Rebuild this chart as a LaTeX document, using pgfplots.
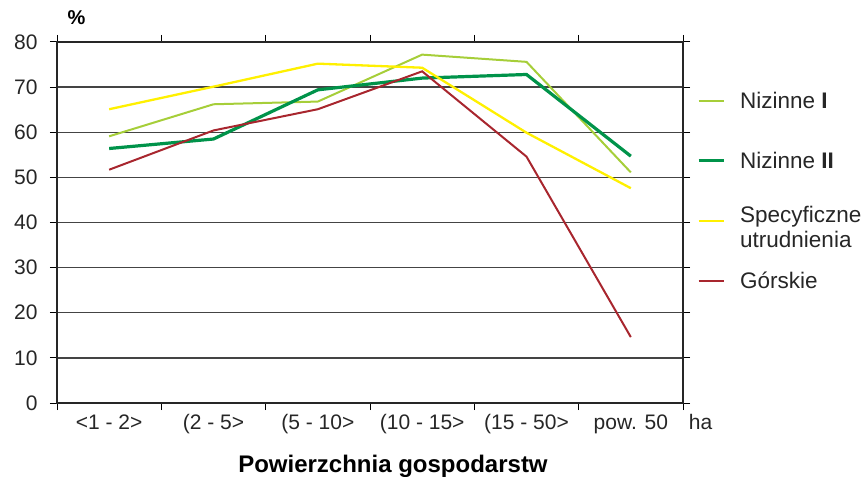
\documentclass[border=0pt]{standalone}
\usepackage{fontspec}
\setmainfont{Liberation Sans}
\usepackage{pgfplots}
\pgfplotsset{compat=1.18}
\definecolor{cLG}{HTML}{A6CE39}
\definecolor{cDG}{HTML}{00934A}
\definecolor{cYE}{HTML}{FFF000}
\definecolor{cRD}{HTML}{A8262E}
\definecolor{cGrid}{HTML}{444444}
\begin{document}
\begin{tikzpicture}
\begin{axis}[
  scale only axis,
  width=626bp, height=361bp,
  xmin=0.5, xmax=6.5, ymin=0, ymax=80,
  xtick={1,...,6},
  xticklabels={{<1 - 2>},{(2 - 5>},{(5 - 10>},{(10 - 15>},{(15 - 50>},{pow. 50\rlap{\hspace{1em}ha}}},
  minor xtick={0.5,1.5,...,6.5},
  major x tick style={draw=none},
  minor x tick style={draw=black, line width=1bp},
  ytick={0,10,...,80},
  y tick style={draw=black, line width=1bp},
  tick align=outside,
  major tick length=7bp, minor tick length=7bp,
  ymajorgrids,
  major y grid style={draw=cGrid, line width=1.3bp},
  axis line style={draw=black!85, line width=1.4bp},
  tick label style={font=\fontsize{21bp}{24bp}\selectfont, text=black!85},
  /pgf/number format/assume math mode=true,
  yticklabel style={xshift=-9bp},
  xticklabel style={yshift=-1bp},
  xlabel={\textbf{Powierzchnia gospodarstw}},
  xlabel style={font=\fontsize{24bp}{27bp}\selectfont, xshift=23bp, yshift=-14bp},
  clip=false,
  legend cell align=left,
  legend style={draw=none, fill=none, at={(rel axis cs:1,0.92)}, anchor=north west,
    xshift=14bp, inner sep=0pt, outer sep=0pt, row sep=0pt, column sep=15bp,
    font=\fontsize{22.5bp}{25bp}\selectfont,
    nodes={minimum height=60bp, inner sep=0pt, text=black!85}},
  legend image code/.code={\draw[#1] (0bp,0bp) -- (25bp,0bp);},
]
\addplot[cLG, line width=2bp] coordinates {(1,59.1) (2,66.2) (3,66.8) (4,77.2) (5,75.6) (6,51.1)};
\addlegendentry{Nizinne \textbf{I}}
\addplot[cDG, line width=3.2bp] coordinates {(1,56.4) (2,58.5) (3,69.4) (4,72.0) (5,72.8) (6,54.7)};
\addlegendentry{Nizinne \textbf{II}}
\addplot[cYE, line width=2.3bp] coordinates {(1,65.1) (2,70.1) (3,75.2) (4,74.3) (5,59.9) (6,47.6)};
\addlegendentry{\begin{tabular}[c]{@{}l@{}}Specyficzne\\utrudnienia\end{tabular}}
\addplot[cRD, line width=2bp] coordinates {(1,51.7) (2,60.4) (3,65.1) (4,73.5) (5,54.6) (6,14.6)};
\addlegendentry{Górskie}
\node[anchor=base west, font=\fontsize{20bp}{23bp}\selectfont\bfseries] at (rel axis cs:0,1) [xshift=7bp, yshift=17bp] {\%};
\end{axis}
\pgfresetboundingbox
\path ([xshift=-57bp,yshift=-74bp]current axis.south west) rectangle ([xshift=185bp,yshift=42bp]current axis.north east);
\end{tikzpicture}
\end{document}
